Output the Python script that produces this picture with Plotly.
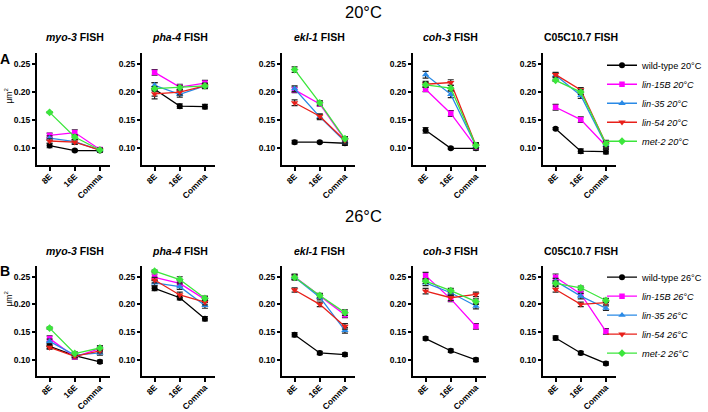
import plotly.graph_objects as go

# ---------------- data ----------------
categories = ["8E", "16E", "Comma"]
genes = ["myo-3", "pha-4", "ekl-1", "coh-3", "C05C10.7"]
gene_italic = [True, True, True, True, False]
strains = ["wild-type", "lin-15B", "lin-35", "lin-54", "met-2"]
temps = ["20°C", "26°C"]
ytick_vals = [0.10, 0.15, 0.20, 0.25]
ytick_text = ["0.10", "0.15", "0.20", "0.25"]

# mean areas (µm²) at 20°C, per gene, per strain
myo3_20 = {"wild-type": [0.105, 0.096, 0.096], "lin-15B": [0.123, 0.128, 0.098],
           "lin-35": [0.118, 0.112, 0.097], "lin-54": [0.113, 0.111, 0.097],
           "met-2": [0.164, 0.120, 0.097]}
pha4_20 = {"wild-type": [0.205, 0.175, 0.174], "lin-15B": [0.235, 0.209, 0.216],
           "lin-35": [0.212, 0.196, 0.211], "lin-54": [0.197, 0.200, 0.211],
           "met-2": [0.206, 0.208, 0.211]}
ekl1_20 = {"wild-type": [0.111, 0.111, 0.109], "lin-15B": [0.204, 0.179, 0.115],
           "lin-35": [0.206, 0.156, 0.112], "lin-54": [0.181, 0.157, 0.114],
           "met-2": [0.240, 0.181, 0.117]}
coh3_20 = {"wild-type": [0.132, 0.100, 0.100], "lin-15B": [0.205, 0.162, 0.102],
           "lin-35": [0.231, 0.196, 0.104], "lin-54": [0.214, 0.217, 0.105],
           "met-2": [0.213, 0.207, 0.105]}
c05_20 = {"wild-type": [0.135, 0.095, 0.094], "lin-15B": [0.173, 0.151, 0.104],
          "lin-35": [0.230, 0.194, 0.106], "lin-54": [0.231, 0.204, 0.108],
          "met-2": [0.221, 0.200, 0.108]}

# mean areas (µm²) at 26°C
myo3_26 = {"wild-type": [0.124, 0.107, 0.096], "lin-15B": [0.138, 0.105, 0.120],
           "lin-35": [0.133, 0.108, 0.112], "lin-54": [0.122, 0.106, 0.116],
           "met-2": [0.157, 0.111, 0.121]}
pha4_26 = {"wild-type": [0.229, 0.212, 0.174], "lin-15B": [0.249, 0.238, 0.209],
           "lin-35": [0.239, 0.232, 0.198], "lin-54": [0.244, 0.217, 0.204],
           "met-2": [0.260, 0.245, 0.211]}
ekl1_26 = {"wild-type": [0.145, 0.112, 0.109], "lin-15B": [0.250, 0.215, 0.181],
           "lin-35": [0.249, 0.213, 0.153], "lin-54": [0.226, 0.200, 0.160],
           "met-2": [0.249, 0.216, 0.185]}
coh3_26 = {"wild-type": [0.138, 0.116, 0.0995], "lin-15B": [0.252, 0.210, 0.160],
           "lin-35": [0.239, 0.221, 0.197], "lin-54": [0.224, 0.212, 0.218],
           "met-2": [0.242, 0.225, 0.205]}
c05_26 = {"wild-type": [0.139, 0.112, 0.093], "lin-15B": [0.249, 0.219, 0.151],
          "lin-35": [0.242, 0.215, 0.193], "lin-54": [0.227, 0.200, 0.203],
          "met-2": [0.238, 0.230, 0.207]}

# SEM error bars
myo3_20_err = {"wild-type": [0.004, 0.002, 0.003], "lin-15B": [0.004, 0.005, 0.003],
               "lin-35": [0.004, 0.004, 0.003], "lin-54": [0.004, 0.004, 0.003],
               "met-2": [0.001, 0.004, 0.003]}
pha4_20_err = {"wild-type": [0.012, 0.004, 0.004], "lin-15B": [0.005, 0.005, 0.005],
               "lin-35": [0.005, 0.005, 0.005], "lin-54": [0.009, 0.005, 0.004],
               "met-2": [0.004, 0.004, 0.004]}
ekl1_20_err = {"wild-type": [0.003, 0.002, 0.004], "lin-15B": [0.005, 0.004, 0.005],
               "lin-35": [0.005, 0.005, 0.005], "lin-54": [0.005, 0.004, 0.004],
               "met-2": [0.005, 0.004, 0.004]}
coh3_20_err = {"wild-type": [0.005, 0.002, 0.003], "lin-15B": [0.004, 0.005, 0.005],
               "lin-35": [0.006, 0.006, 0.005], "lin-54": [0.005, 0.005, 0.005],
               "met-2": [0.004, 0.005, 0.004]}
c05_20_err = {"wild-type": [0.002, 0.004, 0.004], "lin-15B": [0.005, 0.005, 0.006],
              "lin-35": [0.004, 0.005, 0.006], "lin-54": [0.004, 0.004, 0.006],
              "met-2": [0.002, 0.004, 0.005]}
myo3_26_err = {"wild-type": [0.004, 0.003, 0.003], "lin-15B": [0.005, 0.004, 0.005],
               "lin-35": [0.004, 0.004, 0.004], "lin-54": [0.003, 0.003, 0.004],
               "met-2": [0.002, 0.003, 0.004]}
pha4_26_err = {"wild-type": [0.004, 0.004, 0.004], "lin-15B": [0.006, 0.005, 0.005],
               "lin-35": [0.005, 0.005, 0.005], "lin-54": [0.005, 0.005, 0.005],
               "met-2": [0.002, 0.005, 0.004]}
ekl1_26_err = {"wild-type": [0.004, 0.003, 0.003], "lin-15B": [0.005, 0.004, 0.005],
               "lin-35": [0.005, 0.005, 0.005], "lin-54": [0.004, 0.004, 0.005],
               "met-2": [0.004, 0.004, 0.005]}
coh3_26_err = {"wild-type": [0.003, 0.003, 0.003], "lin-15B": [0.006, 0.005, 0.005],
               "lin-35": [0.005, 0.005, 0.005], "lin-54": [0.005, 0.005, 0.004],
               "met-2": [0.004, 0.004, 0.005]}
c05_26_err = {"wild-type": [0.004, 0.003, 0.003], "lin-15B": [0.006, 0.005, 0.005],
              "lin-35": [0.005, 0.005, 0.004], "lin-54": [0.005, 0.004, 0.004],
              "met-2": [0.004, 0.003, 0.004]}

rows_means = [[myo3_20, pha4_20, ekl1_20, coh3_20, c05_20],
              [myo3_26, pha4_26, ekl1_26, coh3_26, c05_26]]
rows_errs = [[myo3_20_err, pha4_20_err, ekl1_20_err, coh3_20_err, c05_20_err],
             [myo3_26_err, pha4_26_err, ekl1_26_err, coh3_26_err, c05_26_err]]

# ---------------- style ----------------
W, H = 708, 412
FONT = "Liberation Sans, Arial, sans-serif"
colors = {"wild-type": "#000000", "lin-15B": "#FF00FF", "lin-35": "#2A8AE6",
          "lin-54": "#E8201A", "met-2": "#3CE63C"}
symbols = {"wild-type": "circle", "lin-15B": "square", "lin-35": "triangle-up",
           "lin-54": "triangle-down", "met-2": "diamond"}
msize = {"wild-type": 6, "lin-15B": 5.5, "lin-35": 6.5, "lin-54": 6.5, "met-2": 6}

panel_px = [(37, 110), (142, 215), (282, 355), (413, 486), (543, 616)]
row_py = [(53, 166), (267, 378)]  # (top, bottom) in pixels
title_py = [37, 252]
header_py = [12, 217]
letter_py = [59, 272]
ylabel_py = [97, 301]
legend_top_py = [51, 264]


def px(x):
    return x / W


def py(y):
    return 1 - y / H


fig = go.Figure()
layout = dict(
    width=W, height=H, margin=dict(l=0, r=0, t=0, b=0),
    paper_bgcolor="white", plot_bgcolor="white",
    font=dict(family=FONT, color="black"),
    showlegend=True,
)
annotations = []

for r in range(2):
    legname = "legend" if r == 0 else "legend2"
    for g in range(5):
        idx = r * 5 + g + 1
        xa = "x" if idx == 1 else f"x{idx}"
        ya = "y" if idx == 1 else f"y{idx}"
        means = rows_means[r][g]
        errs = rows_errs[r][g]
        for s in strains:
            it = s != "wild-type"
            label = f"<i>{s} {temps[r]}</i>" if it else f"{s} {temps[r]}"
            fig.add_trace(go.Scatter(
                x=categories, y=means[s], xaxis=xa, yaxis=ya,
                mode="lines+markers", name=label,
                legend=legname, showlegend=(g == 4),
                line=dict(color=colors[s], width=1.3),
                marker=dict(symbol=symbols[s], size=msize[s], color=colors[s],
                            line=dict(width=0)),
                error_y=dict(type="data", array=errs[s], visible=True,
                             color="#222222", thickness=1.2, width=3),
                cliponaxis=False,
            ))
        x0, x1 = panel_px[g]
        top, bot = row_py[r]
        layout["xaxis" if idx == 1 else f"xaxis{idx}"] = dict(
            domain=[px(x0), px(x1)], anchor=ya, type="category",
            range=[-0.5, 2.4], showline=True, linecolor="black", linewidth=2,
            ticks="outside", ticklen=4, tickwidth=1.5, tickcolor="black",
            tickangle=-45, tickfont=dict(size=8.5, family=FONT, weight="bold"),
            ticklabelstandoff=-3,
            showgrid=False, zeroline=False, fixedrange=True,
        )
        layout["yaxis" if idx == 1 else f"yaxis{idx}"] = dict(
            domain=[py(bot), py(top)], anchor=xa, range=[0.07, 0.27],
            tickvals=ytick_vals, ticktext=ytick_text,
            showline=True, linecolor="black", linewidth=2,
            ticks="outside", ticklen=3, tickwidth=1.5, tickcolor="black",
            tickfont=dict(size=8.5, family=FONT, weight="bold"),
            showgrid=False, zeroline=False, fixedrange=True,
        )
        gname = f"<i>{genes[g]}</i>" if gene_italic[g] else genes[g]
        annotations.append(dict(
            x=1, xref=xa, y=py(title_py[r]), yref="paper",
            text=f"<b>{gname} FISH</b>", showarrow=False,
            font=dict(size=10.5, family=FONT), xanchor="center", yanchor="middle",
        ))
    annotations.append(dict(
        x=px(363), y=py(header_py[r]), xref="paper", yref="paper",
        text=temps[r], showarrow=False, font=dict(size=16.5, family=FONT),
        xanchor="center", yanchor="middle",
    ))
    annotations.append(dict(
        x=px(5), y=py(letter_py[r]), xref="paper", yref="paper",
        text="<b>" + ("A" if r == 0 else "B") + "</b>", showarrow=False,
        font=dict(size=14, family=FONT), xanchor="center", yanchor="middle",
    ))
    annotations.append(dict(
        x=px(9), y=py(ylabel_py[r]), xref="paper", yref="paper",
        text="μm<sup>2</sup>", showarrow=False, textangle=-90,
        font=dict(size=8.5, family=FONT), xanchor="center", yanchor="middle",
    ))
    layout[legname] = dict(
        x=px(602), y=py(legend_top_py[r]), xanchor="left", yanchor="top",
        font=dict(size=9.2, family=FONT), bgcolor="rgba(0,0,0,0)",
        itemwidth=30, tracegroupgap=0,
    )

layout["annotations"] = annotations
fig.update_layout(**layout)
fig.write_html(
    "out.html",
    config={"displayModeBar": False},
    post_script="document.body.style.margin='0';document.body.style.padding='0';"
                "document.body.style.overflow='hidden';",
)
